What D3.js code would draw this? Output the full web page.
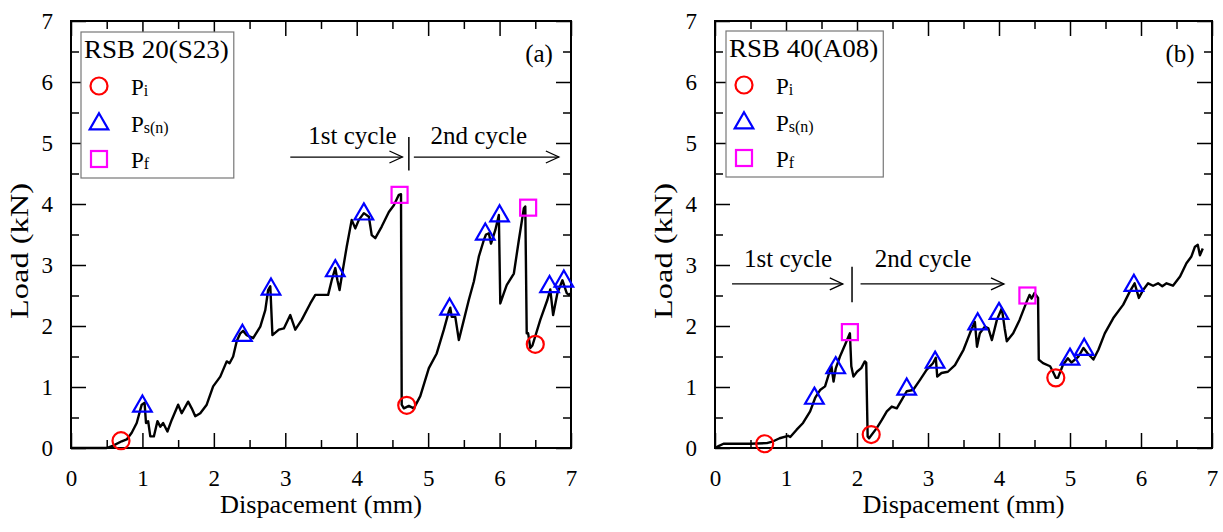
<!DOCTYPE html>
<html><head><meta charset="utf-8">
<script src="https://cdn.jsdelivr.net/npm/d3@7"></script>
<style>body{margin:0;background:#fff}text{font-family:"Liberation Serif","Times New Roman",serif}</style>
</head><body>
<svg id="c" width="1223" height="532"></svg>
<script>
// ---------- data ----------
const xMajorTicks = [0,1,2,3,4,5,6,7];
const yMajorTicks = [0,1,2,3,4,5,6,7];
const minorTicks = [0.5,1.5,2.5,3.5,4.5,5.5,6.5];

// Panel (a) RSB 20(S23)
const aX = [0,0.5,0.59,0.71,0.78,0.85,0.92,0.99,1.03,1.05,1.08,1.11,1.16,1.21,1.25,1.29,1.35,1.41,1.50,1.55,1.64,1.69,1.74,1.81,1.90,1.99,2.09,2.18,2.22,2.27,2.32,2.37,2.41,2.46,2.55,2.65,2.72,2.76,2.79,2.82,2.91,2.98,3.07,3.14,3.23,3.35,3.42,3.60,3.65,3.70,3.73,3.76,3.79,3.86,3.93,3.98,4.03,4.10,4.17,4.21,4.26,4.35,4.45,4.52,4.59,4.62,4.63,4.66,4.73,4.80,4.89,5.01,5.12,5.22,5.29,5.31,5.33,5.38,5.43,5.50,5.57,5.64,5.71,5.78,5.81,5.85,5.88,5.94,5.99,6.01,6.06,6.10,6.20,6.27,6.34,6.36,6.38,6.40,6.43,6.46,6.57,6.67,6.71,6.75,6.81,6.88,6.94,6.97,7.0];
const aY = [0,0,0.04,0.11,0.14,0.25,0.41,0.71,0.74,0.41,0.44,0.19,0.19,0.44,0.35,0.41,0.27,0.46,0.71,0.57,0.76,0.65,0.52,0.57,0.71,1.01,1.17,1.42,1.39,1.50,1.75,1.88,1.92,1.85,1.80,1.99,2.26,2.59,2.65,1.85,1.94,1.96,2.18,1.94,2.10,2.37,2.51,2.51,2.75,2.95,2.75,2.59,2.81,3.30,3.74,3.60,3.74,3.85,3.79,3.49,3.44,3.63,3.87,3.98,4.15,4.16,0.71,0.65,0.69,0.65,0.85,1.31,1.55,1.94,2.24,2.30,2.15,2.15,1.77,2.10,2.43,2.73,3.14,3.41,3.50,3.52,3.35,3.57,3.82,2.37,2.54,2.67,2.86,3.41,3.93,3.96,1.88,1.88,1.64,1.68,2.10,2.43,2.60,2.18,2.54,2.75,2.54,2.51,2.54];
const aCircleX = [0.7,4.7,6.5];
const aCircleY = [0.12,0.7,1.7];
const aTriX = [1.0,2.4,2.8,3.7,4.1,5.3,5.8,6.0,6.7,6.9];
const aTriY = [0.7,1.86,2.62,2.92,3.85,2.29,3.52,3.82,2.66,2.75];
const aSqX = [4.6,6.4];
const aSqY = [4.15,3.94];

// Panel (b) RSB 40(A08)
const bX = [0,0.05,0.12,0.49,0.73,0.82,0.91,1.03,1.06,1.15,1.24,1.34,1.41,1.48,1.55,1.60,1.64,1.67,1.70,1.76,1.83,1.90,1.92,1.95,2.00,2.06,2.11,2.13,2.15,2.17,2.28,2.35,2.42,2.49,2.56,2.63,2.70,2.79,2.89,2.98,3.07,3.11,3.13,3.19,3.28,3.38,3.50,3.59,3.66,3.69,3.73,3.80,3.85,3.90,3.97,4.04,4.08,4.11,4.20,4.29,4.39,4.43,4.46,4.50,4.55,4.56,4.62,4.72,4.76,4.80,4.83,4.90,4.97,5.02,5.12,5.19,5.25,5.33,5.40,5.49,5.61,5.75,5.84,5.91,5.97,6.03,6.10,6.17,6.24,6.30,6.36,6.45,6.55,6.64,6.71,6.76,6.80,6.83,6.87];
const bY = [0,0.03,0.07,0.07,0.08,0.11,0.16,0.20,0.18,0.30,0.41,0.60,0.82,0.95,1.01,1.20,1.34,1.09,1.30,1.50,1.69,1.88,1.34,1.17,1.25,1.31,1.42,1.40,0.19,0.16,0.33,0.46,0.60,0.68,0.65,0.79,0.93,0.95,1.12,1.28,1.39,1.48,1.17,1.23,1.25,1.36,1.61,1.88,2.07,1.66,1.88,1.99,1.96,1.77,2.10,2.29,1.96,1.75,1.88,2.10,2.40,2.51,2.45,2.54,2.46,1.45,1.39,1.34,1.25,1.15,1.15,1.36,1.47,1.40,1.50,1.64,1.55,1.45,1.61,1.88,2.13,2.35,2.56,2.70,2.46,2.59,2.70,2.66,2.70,2.65,2.70,2.66,2.81,3.03,3.14,3.30,3.33,3.16,3.27];
const bCircleX = [0.7,2.2,4.8];
const bCircleY = [0.07,0.22,1.15];
const bTriX = [1.4,1.7,2.7,3.1,3.7,4.0,5.0,5.2,5.9];
const bTriY = [0.83,1.33,0.98,1.42,2.05,2.22,1.47,1.63,2.68];
const bSqX = [1.9,4.4];
const bSqY = [1.9,2.5];

const legendTitles = ["RSB 20(S23)","RSB 40(A08)"];
const panelTags = ["(a)","(b)"];
const cycleLabels = ["1st cycle","2nd cycle"];
// cycle arrows [start, end, level], separator [x, y1, y2], label anchors [x, y]
const aArrows = [[3.07,4.64,4.77],[4.80,6.83,4.77]];
const aSep = [4.73,4.55,5.10];
const aLabelPos = [[3.94,4.98],[5.71,4.98]];
const bArrows = [[0.24,1.80,2.69],[2.05,4.07,2.69]];
const bSep = [1.93,2.39,2.97];
const bLabelPos = [[1.03,2.97],[2.93,2.97]];

// ---------- drawing ----------
const svg = d3.select("#c");
const panels = [
  {left:71,right:571,X:aX,Y:aY,cx:aCircleX,cy:aCircleY,tx:aTriX,ty:aTriY,sx:aSqX,sy:aSqY,title:legendTitles[0],tag:panelTags[0],arrows:aArrows,sep:aSep,lab:aLabelPos,legL:81,legT:32},
  {left:715,right:1212,X:bX,Y:bY,cx:bCircleX,cy:bCircleY,tx:bTriX,ty:bTriY,sx:bSqX,sy:bSqY,title:legendTitles[1],tag:panelTags[1],arrows:bArrows,sep:bSep,lab:bLabelPos,legL:726,legT:31}
];
const plotTop = 21, plotBottom = 448;
const triPath = d3.symbol().type(d3.symbolTriangle).size(150)();

panels.forEach(p => {
  const x = d3.scaleLinear().domain([0,7]).range([p.left,p.right]);
  const y = d3.scaleLinear().domain([0,7]).range([plotBottom,plotTop]);
  const g = svg.append("g");

  const styleAxis = (sel, labels) => {
    sel.select(".domain").remove();
    sel.selectAll(".tick line").attr("stroke","#000").attr("stroke-width",1.5);
    sel.selectAll("text").attr("font-size",23).attr("fill","#000").attr("font-family","Liberation Serif");
    if(!labels) sel.selectAll("text").remove();
  };
  // bottom
  g.append("g").attr("transform",`translate(0,${plotBottom})`)
    .call(d3.axisBottom(x).tickValues(xMajorTicks).tickSize(-15).tickPadding(22).tickFormat(d3.format("d")))
    .call(s=>styleAxis(s,true));
  g.append("g").attr("transform",`translate(0,${plotBottom})`)
    .call(d3.axisBottom(x).tickValues(minorTicks).tickSize(-8).tickFormat(""))
    .call(s=>styleAxis(s,false));
  // top
  g.append("g").attr("transform",`translate(0,${plotTop})`)
    .call(d3.axisTop(x).tickValues(xMajorTicks).tickSize(-15).tickFormat(""))
    .call(s=>styleAxis(s,false));
  g.append("g").attr("transform",`translate(0,${plotTop})`)
    .call(d3.axisTop(x).tickValues(minorTicks).tickSize(-8).tickFormat(""))
    .call(s=>styleAxis(s,false));
  // left
  g.append("g").attr("transform",`translate(${p.left},0)`)
    .call(d3.axisLeft(y).tickValues(yMajorTicks).tickSize(-15).tickPadding(18).tickFormat(d3.format("d")))
    .call(s=>styleAxis(s,true));
  g.append("g").attr("transform",`translate(${p.left},0)`)
    .call(d3.axisLeft(y).tickValues(minorTicks).tickSize(-8).tickFormat(""))
    .call(s=>styleAxis(s,false));
  // right
  g.append("g").attr("transform",`translate(${p.right},0)`)
    .call(d3.axisRight(y).tickValues(yMajorTicks).tickSize(-15).tickFormat(""))
    .call(s=>styleAxis(s,false));
  g.append("g").attr("transform",`translate(${p.right},0)`)
    .call(d3.axisRight(y).tickValues(minorTicks).tickSize(-8).tickFormat(""))
    .call(s=>styleAxis(s,false));

  // frame
  g.append("rect").attr("x",p.left).attr("y",plotTop).attr("width",p.right-p.left).attr("height",plotBottom-plotTop)
    .attr("fill","none").attr("stroke","#000").attr("stroke-width",2);

  // axis titles
  g.append("text").attr("x",(p.left+p.right)/2).attr("y",513).attr("text-anchor","middle")
    .attr("font-size",25).attr("textLength",202).attr("lengthAdjust","spacingAndGlyphs").text("Dispacement (mm)");
  g.append("text").attr("transform",`translate(${p.left-43},251) rotate(-90)`)
    .attr("text-anchor","middle").attr("font-size",25).attr("textLength",136).attr("lengthAdjust","spacingAndGlyphs").text("Load (kN)");

  // curve
  const pts = p.X.map((v,i)=>[v,p.Y[i]]);
  g.append("path").datum(pts)
    .attr("d", d3.line().x(d=>x(d[0])).y(d=>y(d[1])))
    .attr("fill","none").attr("stroke","#000").attr("stroke-width",2.4).attr("stroke-linejoin","round");

  // markers
  g.selectAll(".ci").data(p.cx.map((v,i)=>[v,p.cy[i]])).join("circle")
    .attr("cx",d=>x(d[0])).attr("cy",d=>y(d[1])).attr("r",8.5)
    .attr("fill","none").attr("stroke","#ff0000").attr("stroke-width",2.2);
  g.selectAll(".tr").data(p.tx.map((v,i)=>[v,p.ty[i]])).join("path")
    .attr("d",triPath).attr("transform",d=>`translate(${x(d[0])},${y(d[1])+1})`)
    .attr("fill","none").attr("stroke","#0000ff").attr("stroke-width",2.2);
  g.selectAll(".sq").data(p.sx.map((v,i)=>[v,p.sy[i]])).join("rect")
    .attr("x",d=>x(d[0])-8).attr("y",d=>y(d[1])-8).attr("width",16).attr("height",16)
    .attr("fill","none").attr("stroke","#ff00ff").attr("stroke-width",2.2);

  // cycle arrows
  p.arrows.forEach(a=>{
    const x1=x(a[0]), x2=x(a[1]), yy=y(a[2]);
    g.append("line").attr("x1",x1).attr("x2",x2).attr("y1",yy).attr("y2",yy).attr("stroke","#000").attr("stroke-width",1.3);
    g.append("path").attr("d",`M${x2-13},${yy-6}L${x2},${yy}L${x2-13},${yy+6}`)
      .attr("fill","none").attr("stroke","#000").attr("stroke-width",1.3);
  });
  g.append("line").attr("x1",x(p.sep[0])).attr("x2",x(p.sep[0])).attr("y1",y(p.sep[1])).attr("y2",y(p.sep[2]))
    .attr("stroke","#000").attr("stroke-width",1.5);
  p.lab.forEach((l,i)=>{
    g.append("text").attr("x",x(l[0])).attr("y",y(l[1])).attr("text-anchor","middle")
      .attr("font-size",25).text(cycleLabels[i]);
  });

  // panel tag
  g.append("text").attr("x",p.right-32).attr("y",62).attr("text-anchor","middle").attr("font-size",25).text(p.tag);

  // legend
  const lg = g.append("g").attr("transform",`translate(${p.legL},${p.legT})`);
  const box = lg.append("rect").attr("fill","#fff").attr("stroke","#777").attr("stroke-width",1.2);
  const tt = lg.append("text").attr("x",3).attr("y",26).attr("font-size",25).text(p.title);
  const tw0 = tt.node().getComputedTextLength();
  tt.attr("textLength",tw0*1.08).attr("lengthAdjust","spacingAndGlyphs");
  box.attr("x",0).attr("y",0).attr("width",tw0*1.08+8).attr("height",146);
  const rows = [54,91,127];
  lg.append("circle").attr("cx",18).attr("cy",rows[0]).attr("r",8.5).attr("fill","none").attr("stroke","#ff0000").attr("stroke-width",2.2);
  lg.append("path").attr("d",triPath).attr("transform",`translate(18,${rows[1]+1})`).attr("fill","none").attr("stroke","#0000ff").attr("stroke-width",2.2);
  lg.append("rect").attr("x",10).attr("y",rows[2]-8).attr("width",16).attr("height",16).attr("fill","none").attr("stroke","#ff00ff").attr("stroke-width",2.2);
  const subs = ["i","s(n)","f"];
  rows.forEach((r,i)=>{
    const t = lg.append("text").attr("x",50).attr("y",r+9).attr("font-size",23);
    t.append("tspan").text("P");
    t.append("tspan").attr("font-size",16).attr("dy",1).text(subs[i]);
  });
});
</script>
</body></html>
